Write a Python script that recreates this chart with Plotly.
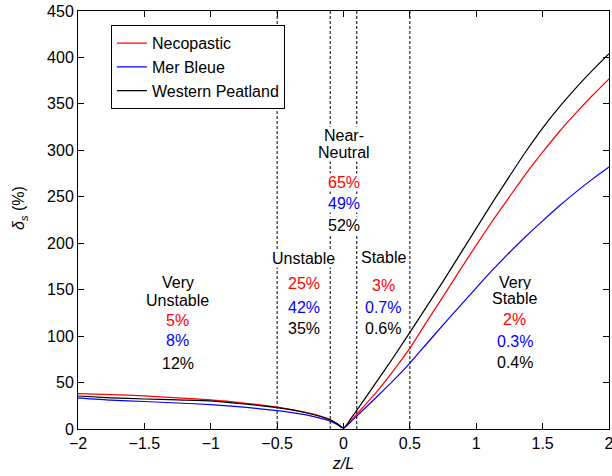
import plotly.graph_objects as go

# Stability parameter z/L (negative = unstable, positive = stable)
zl_neg = [-2.0, -1.75, -1.5, -1.25, -1.0, -0.75, -0.5, -0.4, -0.3, -0.2, -0.1, -0.05, 0.0]
zl_pos = [0.0, 0.05, 0.1, 0.25, 0.375, 0.5, 0.625, 0.75, 0.875, 1.0, 1.125, 1.25,
          1.375, 1.5, 1.625, 1.75, 1.875, 2.0]

# Relative error delta_s (%) for each site
necopastic_neg = [38.0, 37.0, 35.7, 33.5, 31.4, 28.0, 23.5, 21.2, 18.5, 15.0, 10.0, 6.0, 1.0]
merbleue_neg = [33.5, 31.0, 29.6, 28.0, 26.3, 23.5, 19.8, 18.0, 15.8, 12.5, 8.5, 5.0, 1.0]
western_neg = [35.5, 33.5, 32.3, 31.3, 30.3, 27.0, 23.0, 20.8, 18.0, 14.5, 10.0, 6.0, 1.0]

necopastic_pos = [1.0, 8.0, 16.0, 40.0, 62.5, 87.0, 115.0, 142.5, 170.5, 198.0, 224.5,
                  250.0, 275.0, 298.0, 320.0, 340.0, 359.0, 377.0]
merbleue_pos = [1.0, 7.0, 14.0, 34.5, 52.0, 71.0, 91.5, 112.0, 132.0, 152.0, 171.5,
                190.0, 207.5, 224.0, 240.0, 255.0, 269.0, 282.0]
western_pos = [1.0, 10.0, 20.0, 51.0, 77.0, 104.0, 131.5, 159.0, 187.5, 216.0, 244.5,
               272.0, 299.0, 324.0, 346.5, 367.0, 386.0, 404.0]

site_names = ["Necopastic", "Mer Bleue", "Western Peatland"]
site_colors = ["#ff0000", "#0000ff", "#000000"]

# Stability class boundaries
class_bounds = [-0.5, -0.1, 0.1, 0.5]

# Class labels: (x centre, header lines, header y positions)
class_headers = [
    (-1.25, ["Very", "Unstable"], [157.7, 138.8]),
    (-0.30, ["Unstable"], [183.4]),
    (0.0, ["Near-", "Neutral"], [316.1, 298.2]),
    (0.30, ["Stable"], [184.1]),
    (1.29, ["Very", "Stable"], [157.2, 140.4]),
]
# Share of observations per class for each site (same order as site_names)
class_shares = [
    ["5%", "8%", "12%"],
    ["25%", "42%", "35%"],
    ["65%", "49%", "52%"],
    ["3%", "0.7%", "0.6%"],
    ["2%", "0.3%", "0.4%"],
]
share_y = [
    [117.0, 95.0, 71.0],
    [156.5, 131.3, 108.0],
    [265.9, 243.3, 219.3],
    [154.7, 131.3, 108.7],
    [117.8, 94.7, 72.1],
]

FONT = "Liberation Sans, Arial, Helvetica, sans-serif"
FS = 16

fig = go.Figure()

neg_sets = [necopastic_neg, merbleue_neg, western_neg]
pos_sets = [necopastic_pos, merbleue_pos, western_pos]
for name, color, yn, yp in zip(site_names, site_colors, neg_sets, pos_sets):
    fig.add_trace(go.Scatter(
        x=zl_neg + zl_pos[1:], y=yn + yp[1:], mode="lines", name=name,
        line=dict(color=color, width=1.2, shape="spline", smoothing=0.6),
    ))

for b in class_bounds:
    fig.add_shape(type="line", xref="x", yref="paper", x0=b, x1=b, y0=0, y1=1,
                  line=dict(color="black", width=1, dash="3px,2px"), layer="below")

annotations = []
for (cx, lines, ys), shares, sy in zip(class_headers, class_shares, share_y):
    for txt, y in zip(lines, ys):
        annotations.append(dict(x=cx, y=y, xref="x", yref="y", text=txt, showarrow=False,
                                font=dict(size=FS, color="black", family=FONT),
                                bgcolor="white", borderpad=0,
                                xanchor="center", yanchor="middle"))
    for txt, y, col in zip(shares, sy, site_colors):
        annotations.append(dict(x=cx, y=y, xref="x", yref="y", text=txt, showarrow=False,
                                font=dict(size=FS, color=col, family=FONT),
                                bgcolor="white", borderpad=0,
                                xanchor="center", yanchor="middle"))

# y-axis title
annotations.append(dict(x=-0.109, y=0.529, xref="paper", yref="paper",
                        text="<i>δ</i><sub><i>s</i></sub> (%)", textangle=-90,
                        showarrow=False, font=dict(size=FS, color="black", family=FONT),
                        xanchor="center", yanchor="middle"))

fig.update_layout(
    width=612, height=476,
    margin=dict(l=78, r=3, t=11, b=47),
    paper_bgcolor="white", plot_bgcolor="white",
    font=dict(family=FONT, size=FS, color="black"),
    annotations=annotations,
    showlegend=True,
    legend=dict(x=0.062, y=0.966, xanchor="left", yanchor="top",
                bgcolor="white", bordercolor="black", borderwidth=1,
                font=dict(size=FS, family=FONT, color="black")),
    xaxis=dict(range=[-2, 2], tickvals=[-2, -1.5, -1, -0.5, 0, 0.5, 1, 1.5, 2],
               ticks="inside", ticklen=6, tickcolor="black",
               ticklabeloverflow="allow", automargin=False,
               showline=True, linecolor="black", linewidth=1, mirror="ticks",
               showgrid=False, zeroline=False,
               title=dict(text="<i>z/L</i>", font=dict(size=FS, family=FONT), standoff=6)),
    yaxis=dict(range=[0, 450], tickvals=list(range(0, 451, 50)),
               ticks="inside", ticklen=6, tickcolor="black", automargin=False,
               showline=True, linecolor="black", linewidth=1, mirror="ticks",
               showgrid=False, zeroline=False),
)

fig.write_html("out.html")
